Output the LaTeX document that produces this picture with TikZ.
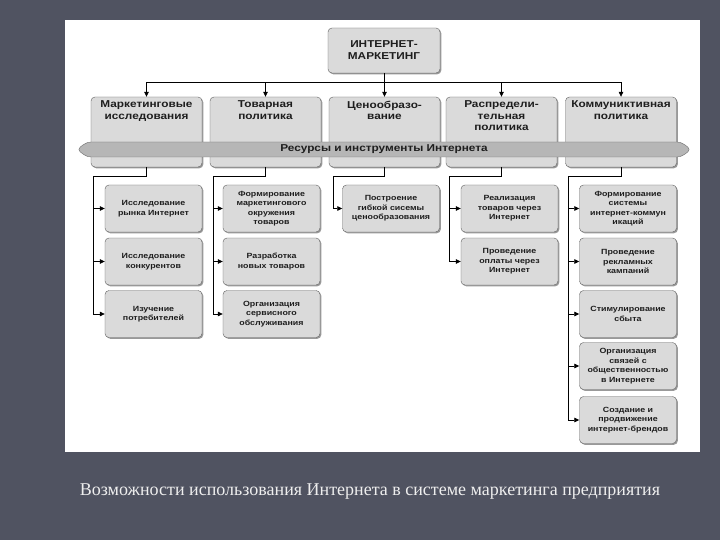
\documentclass[tikz,border=0pt]{standalone}
\usepackage{fontspec}
\usepackage{tikz}
\usetikzlibrary{arrows.meta,shadows}
\newfontfamily\boxfont[FakeStretch=1.18]{Liberation Sans}
\newfontfamily\capfont{Liberation Serif}
\definecolor{slidebg}{RGB}{80,83,97}
\definecolor{boxfill}{RGB}{218,218,218}
\definecolor{boxline}{RGB}{95,95,95}
\definecolor{bandfill}{RGB}{182,182,182}
\definecolor{bandline}{RGB}{110,110,110}
\definecolor{txt}{RGB}{30,30,30}
\definecolor{captext}{RGB}{238,238,238}

\begin{document}
\begin{tikzpicture}[x=1pt,y=-1pt,
    box/.style={draw=boxline,fill=boxfill,rounded corners=4pt,
      drop shadow={shadow xshift=1.3pt,shadow yshift=-1.3pt,fill=black!40,opacity=1}},
    headbox/.style={box,minimum width=112pt,minimum height=45pt,align=center,text=txt,
      font=\boxfont\bfseries\fontsize{10}{12}\selectfont},
    colbox/.style={box,minimum width=111pt,minimum height=70pt},
    coltext/.style={anchor=north,align=center,inner sep=0pt,text=txt,
      execute at begin node=\strut,
      font=\boxfont\bfseries\fontsize{10}{11.5}\selectfont},
    subbox/.style={box,minimum width=97pt,minimum height=47pt,align=center,text=txt,
      font=\boxfont\bfseries\fontsize{7.5}{9.5}\selectfont},
    link/.style={draw=black,line width=0.7pt},
    arr/.style={link,-{Triangle[length=5pt,width=4.5pt]}}]

  % slide and sheet
  \path[use as bounding box,fill=slidebg] (0,0) rectangle (720,540);
  \fill[white] (65,20) rectangle (700,452);

  % top
  \node[headbox] (im) at (384,50.5) {ИНТЕРНЕТ-\\МАРКЕТИНГ};

  % second row
  \node[colbox] (mi) at (146.5,132) {};
  \node[colbox] (tp) at (265.5,132) {};
  \node[colbox] (cp) at (384.5,132) {};
  \node[colbox] (rp) at (501.5,132) {};
  \node[colbox] (kp) at (621,132) {};
  \node[coltext] at ([yshift=-4pt]mi.north) {Маркетинговые\\исследования};
  \node[coltext] at ([yshift=-4pt]tp.north) {Товарная\\политика};
  \node[coltext] at ([yshift=-4pt]cp.north) {Ценообразо-\\вание};
  \node[coltext] at ([yshift=-4pt]rp.north) {Распредели-\\тельная\\политика};
  \node[coltext] at ([yshift=-4pt]kp.north) {Коммуниктивная\\политика};

  \foreach \c in {mi,tp,cp,rp,kp}
    \draw[arr] (im.south) -- ++(0,9) -| (\c.north);

  % band
  \draw[draw=bandline,fill=bandfill,rounded corners=4pt]
    (77,149.5) -- (87,142) -- (681,142) -- (691,149.5) -- (681,157) -- (87,157) -- cycle;
  \node[text=txt,font=\boxfont\bfseries\fontsize{10}{12}\selectfont] (res) at (384,149.5)
    {Ресурсы и инструменты Интернета};

  % lower boxes
  \node[subbox] (mi1) at (153.5,208.5) {Исследование\\рынка Интернет};
  \node[subbox] (mi2) at (153.5,261.5) {Исследование\\конкурентов};
  \node[subbox] (mi3) at (153.5,314) {Изучение\\потребителей};

  \node[subbox] (tp1) at (271.5,208.5) {Формирование\\маркетингового\\окружения\\товаров};
  \node[subbox] (tp2) at (271.5,261.5) {Разработка\\новых товаров};
  \node[subbox] (tp3) at (271.5,314) {Организация\\сервисного\\обслуживания};

  \node[subbox] (cp1) at (391,208.5) {Построение\\гибкой сисемы\\ценообразования};

  \node[subbox] (rp1) at (509.5,208.5) {Реализация\\товаров через\\Интернет};
  \node[subbox] (rp2) at (509.5,261.5) {Проведение\\оплаты через\\Интернет};

  \node[subbox] (kp1) at (628,208.5) {Формирование\\системы\\интернет-коммун\\икаций};
  \node[subbox] (kp2) at (628,261.5) {Проведение\\рекламных\\кампаний};
  \node[subbox] (kp3) at (628,314) {Стимулирование\\сбыта};
  \node[subbox] (kp4) at (628,366) {Организация\\связей с\\общественностью\\в Интернете};
  \node[subbox] (kp5) at (628,420) {Создание и\\продвижение\\интернет-брендов};

  % branches
  \coordinate (mil) at (93,176);
  \coordinate (tpl) at (213,176);
  \coordinate (cpl) at (333,176);
  \coordinate (rpl) at (449,176);
  \coordinate (kpl) at (568,176);
  \draw[link] (mi.south) |- (mil) -- (mil |- mi3.west);
  \draw[link] (tp.south) |- (tpl) -- (tpl |- tp3.west);
  \draw[link] (cp.south) |- (cpl) -- (cpl |- cp1.west);
  \draw[link] (rp.south) |- (rpl) -- (rpl |- rp2.west);
  \draw[link] (kp.south) |- (kpl) -- (kpl |- kp5.west);
  \foreach \s in {mi1,mi2,mi3}
    \draw[arr] (mil |- \s.west) -- (\s.west);
  \foreach \s in {tp1,tp2,tp3}
    \draw[arr] (tpl |- \s.west) -- (\s.west);
  \draw[arr] (cpl |- cp1.west) -- (cp1.west);
  \foreach \s in {rp1,rp2}
    \draw[arr] (rpl |- \s.west) -- (\s.west);
  \foreach \s in {kp1,kp2,kp3,kp4,kp5}
    \draw[arr] (kpl |- \s.west) -- (\s.west);

  % caption
  \node[text=captext,font=\capfont\fontsize{18}{20}\selectfont] (cap) at (370,492)
    {Возможности использования Интернета в системе маркетинга предприятия};
\end{tikzpicture}
\end{document}
